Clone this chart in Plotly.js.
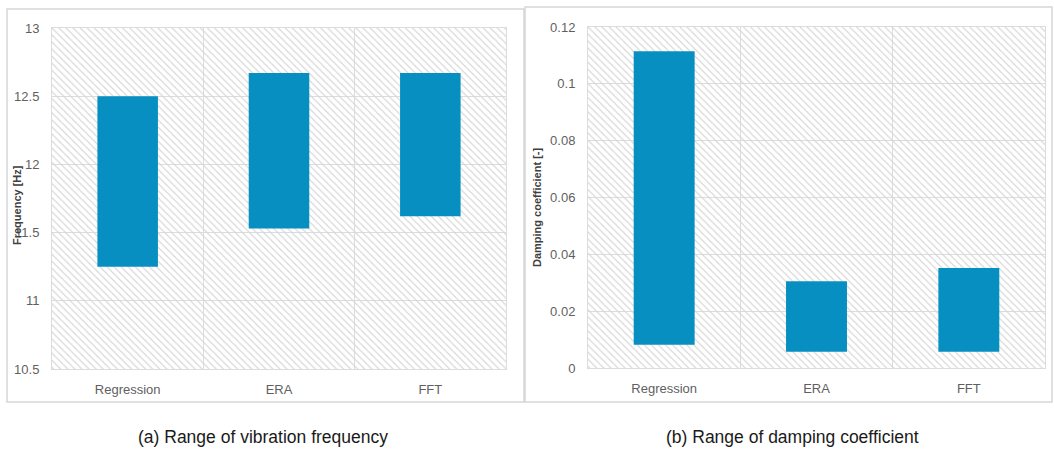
<!DOCTYPE html>
<html>
<head>
<meta charset="utf-8">
<script src="https://cdn.plot.ly/plotly-3.0.1.min.js"></script>
<style>html,body{margin:0;padding:0;background:#fff;}#chart{width:1054px;height:450px;}</style>
</head>
<body>
<div id="chart"></div>
<script>
// ---- data ----
const categories = ["Regression", "ERA", "FFT"];
const freqMin = [11.25, 11.53, 11.62];
const freqMax = [12.50, 12.67, 12.67];
const dampMin = [0.0082, 0.0057, 0.0057];
const dampMax = [0.1115, 0.0305, 0.0352];
const freqRange = [10.5, 13];
const dampRange = [0, 0.12];
const freqTicks = [10.5, 11, 11.5, 12, 12.5, 13];
const freqTickText = ["10.5", "11", "11.5", "12", "12.5", "13"];
const dampTicks = [0, 0.02, 0.04, 0.06, 0.08, 0.1, 0.12];
const dampTickText = ["0", "0.02", "0.04", "0.06", "0.08", "0.1", "0.12"];

const W = 1054, H = 450;
const px = v => v / W, py = v => 1 - v / H;
const barColor = "#078fc1";
const gridColor = "#dcdcdc";
const tickFont = {family: "Liberation Sans, Arial, sans-serif", size: 13, color: "#5f5f5f"};

function hatch(range, xa, ya) {
  return {
    type: "bar", x: categories,
    base: categories.map(() => range[0]),
    y: categories.map(() => range[1] - range[0]),
    width: 1, xaxis: xa, yaxis: ya, hoverinfo: "skip", showlegend: false,
    marker: {color: "rgba(0,0,0,0)", line: {width: 0},
      pattern: {shape: "\\", size: 5, solidity: 0.22, fgcolor: "#d6d6d6", bgcolor: "rgba(0,0,0,0)", fillmode: "replace"}}
  };
}
function floatBars(mins, maxs, xa, ya) {
  return {
    type: "bar", x: categories, base: mins, y: maxs.map((m, i) => m - mins[i]),
    width: 0.4, xaxis: xa, yaxis: ya, showlegend: false,
    marker: {color: barColor, line: {width: 0}}
  };
}

const traces = [
  hatch(freqRange, "x", "y"),
  floatBars(freqMin, freqMax, "x", "y"),
  hatch(dampRange, "x2", "y2"),
  floatBars(dampMin, dampMax, "x2", "y2")
];

const xCommon = {
  type: "category", tickson: "boundaries", showgrid: true, gridcolor: gridColor, gridwidth: 1,
  showline: true, linecolor: gridColor, mirror: true, ticks: "", ticklabelstandoff: 8,
  tickfont: tickFont, fixedrange: true, zeroline: false
};
const yCommon = {
  showgrid: true, gridcolor: gridColor, gridwidth: 1, showline: true, linecolor: gridColor,
  mirror: true, ticks: "outside", ticklen: 9, tickcolor: "rgba(0,0,0,0)", tickfont: tickFont,
  zeroline: false, tickmode: "array", fixedrange: true
};

const boxLine = {color: "#d6d6d6", width: 1.5};
const captionFont = {family: "Liberation Sans, Arial, sans-serif", size: 17.5, color: "#1a1a1a"};
const titleFont = {family: "Liberation Sans, Arial, sans-serif", size: 11, color: "#404040"};
const layout = {
  width: W, height: H, margin: {l: 0, r: 0, t: 0, b: 0},
  paper_bgcolor: "#fff", plot_bgcolor: "#fff", barmode: "overlay", showlegend: false,
  xaxis: Object.assign({}, xCommon, {domain: [px(52), px(506)], anchor: "y"}),
  yaxis: Object.assign({}, yCommon, {domain: [py(369), py(28)], range: freqRange, tickvals: freqTicks, ticktext: freqTickText, anchor: "x"}),
  xaxis2: Object.assign({}, xCommon, {domain: [px(588), px(1045)], anchor: "y2"}),
  yaxis2: Object.assign({}, yCommon, {domain: [py(368), py(27)], range: dampRange, tickvals: dampTicks, ticktext: dampTickText, anchor: "x2"}),
  shapes: [
    {type: "rect", xref: "paper", yref: "paper", x0: px(7), x1: px(524), y0: py(402), y1: py(9), line: boxLine, layer: "below"},
    {type: "rect", xref: "paper", yref: "paper", x0: px(525), x1: px(1052), y0: py(402), y1: py(7), line: boxLine, layer: "below"}
  ],
  annotations: [
    {xref: "paper", yref: "paper", x: px(17), y: py(205), text: "<b>Frequency [Hz]</b>", textangle: -90, showarrow: false,
     font: titleFont, xanchor: "center", yanchor: "middle"},
    {xref: "paper", yref: "paper", x: px(537), y: py(207), text: "<b>Damping coefficient [-]</b>", textangle: -90, showarrow: false,
     font: titleFont, xanchor: "center", yanchor: "middle"},
    {xref: "paper", yref: "paper", x: px(263), y: py(437), text: "(a) Range of vibration frequency", showarrow: false,
     font: captionFont, xanchor: "center", yanchor: "middle"},
    {xref: "paper", yref: "paper", x: px(792), y: py(437), text: "(b) Range of damping coefficient", showarrow: false,
     font: captionFont, xanchor: "center", yanchor: "middle"}
  ]
};

Plotly.newPlot("chart", traces, layout, {displayModeBar: false, staticPlot: true});
</script>
</body>
</html>
